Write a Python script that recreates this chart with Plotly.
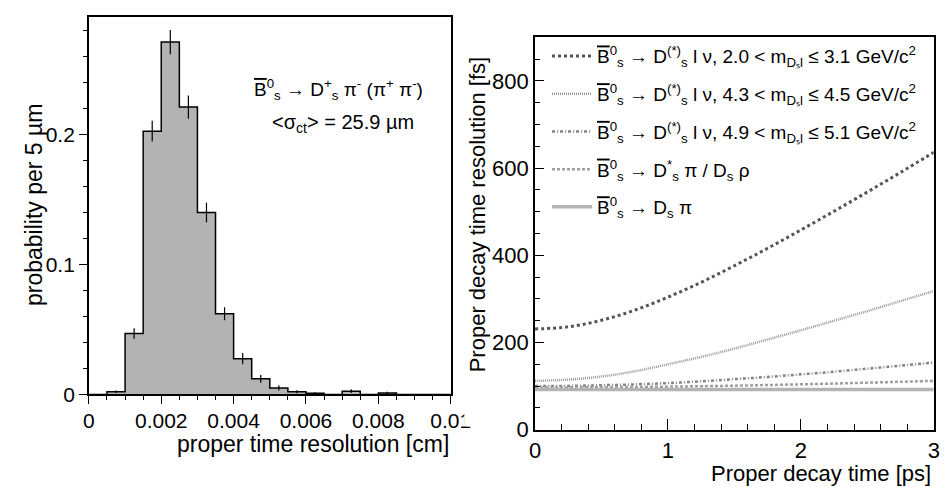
import plotly.graph_objects as go

# ---------------- data: left panel (histogram) ----------------
bin_left = [0.0000, 0.0005, 0.0010, 0.0015, 0.0020, 0.0025, 0.0030, 0.0035, 0.0040, 0.0045,
            0.0050, 0.0055, 0.0060, 0.0065, 0.0070, 0.0075, 0.0080, 0.0085, 0.0090, 0.0095]
bin_width = 0.0005
bin_prob = [0.0, 0.002, 0.0468, 0.2025, 0.271, 0.221, 0.140, 0.062, 0.0275, 0.012,
            0.005, 0.002, 0.0008, 0.0, 0.0025, 0.0, 0.001, 0.0, 0.0, 0.0]
bin_err = [0.0, 0.001, 0.004, 0.008, 0.0094, 0.009, 0.0075, 0.005, 0.0043, 0.003,
           0.002, 0.0012, 0.0008, 0.0, 0.0015, 0.0, 0.001, 0.0, 0.0, 0.0]
left_xticks = [0, 0.002, 0.004, 0.006, 0.008, 0.01]
left_xticklabels = ["0", "0.002", "0.004", "0.006", "0.008", "0.01"]
left_yticks = [0, 0.1, 0.2]
left_yticklabels = ["0", "0.1", "0.2"]

# ---------------- data: right panel (resolution curves) ----------------
t_ps = [0.0, 0.25, 0.5, 0.75, 1.0, 1.25, 1.5, 1.75, 2.0, 2.25, 2.5, 2.75, 3.0]
res_dsl_20_31 = [231, 236, 251, 274, 304, 338, 376, 416, 458, 501, 545, 590, 636]
res_dsl_43_45 = [112, 115, 122, 134, 150, 167, 186, 207, 228, 250, 272, 295, 318]
res_dsl_49_51 = [100, 100.5, 102, 104, 107, 111, 116, 121, 127, 133, 140, 147, 154]
res_dsstar_pi = [97, 97.1, 97.4, 98.0, 98.8, 99.8, 101.0, 102.5, 104.1, 105.9, 107.9, 110.0, 112]
res_ds_pi = [92, 92, 92, 92, 92, 92, 92, 92, 92, 92, 92, 92, 92]

OB = "<span style='text-decoration:overline'>B</span>"
legend_names = [
    OB + "<sup>0</sup><sub>s</sub> → D<sup>(*)</sup><sub>s</sub> l ν, 2.0 &lt; m<sub>Dₛl</sub> ≤ 3.1 GeV/c<sup>2</sup>",
    OB + "<sup>0</sup><sub>s</sub> → D<sup>(*)</sup><sub>s</sub> l ν, 4.3 &lt; m<sub>Dₛl</sub> ≤ 4.5 GeV/c<sup>2</sup>",
    OB + "<sup>0</sup><sub>s</sub> → D<sup>(*)</sup><sub>s</sub> l ν, 4.9 &lt; m<sub>Dₛl</sub> ≤ 5.1 GeV/c<sup>2</sup>",
    OB + "<sup>0</sup><sub>s</sub> → D<sup>*</sup><sub>s</sub> π / D<sub>s</sub> ρ",
    OB + "<sup>0</sup><sub>s</sub> → D<sub>s</sub> π",
]

FONT = "Liberation Sans, Arial, sans-serif"
fig = go.Figure()

# histogram as step outline with fill
step_x = bin_left + [bin_left[-1] + bin_width]
step_y = bin_prob + [bin_prob[-1]]
fig.add_trace(go.Scatter(
    x=step_x, y=step_y, mode="lines", line=dict(shape="hv", color="black", width=1.5),
    fill="tozeroy", fillcolor="#b3b3b3", xaxis="x", yaxis="y", showlegend=False,
    hoverinfo="skip"))

centers = [l + bin_width / 2 for l, p in zip(bin_left, bin_prob) if p > 0]
vals = [p for p in bin_prob if p > 0]
errs = [e for e, p in zip(bin_err, bin_prob) if p > 0]
fig.add_trace(go.Scatter(
    x=centers, y=vals, mode="markers", marker=dict(size=1, color="black"),
    error_y=dict(type="data", array=errs, color="black", thickness=1.2, width=0),
    xaxis="x", yaxis="y", showlegend=False))

# right panel curves
styles = [
    dict(color="#555555", width=3, dash="3px,3px"),
    dict(color="#9a9a9a", width=2.5, dash="1px,1px"),
    dict(color="#858585", width=2.5, dash="3px,2px,1px,2px"),
    dict(color="#a0a0a0", width=2.5, dash="3px,2px"),
    dict(color="#b4b4b4", width=3.5),
]
series = [res_dsl_20_31, res_dsl_43_45, res_dsl_49_51, res_dsstar_pi, res_ds_pi]
for i, (ys, st, nm) in enumerate(zip(series, styles, legend_names)):
    fig.add_trace(go.Scatter(
        x=t_ps, y=ys, mode="lines", line=dict(shape="spline", **st), name=nm,
        xaxis="x2", yaxis="y2", legendgroup=f"g{i}"))

W, H = 949, 487
def px(x):
    return x / W
def py(y):
    return 1 - y / H

axis_common = dict(showline=True, linecolor="black", linewidth=1.6, mirror=True,
                   showgrid=False, zeroline=False, tickcolor="black")

fig.update_layout(
    width=W, height=H, margin=dict(l=0, r=0, t=0, b=0),
    paper_bgcolor="white", plot_bgcolor="rgba(0,0,0,0)",
    font=dict(family=FONT, color="black"),
    xaxis=dict(domain=[px(77), px(449)], range=[0, 0.01], anchor="y",
               tickvals=left_xticks, ticktext=left_xticklabels,
               ticks="outside", ticklen=8, tickwidth=1.2, ticklabelstandoff=-1,
               tickfont=dict(family=FONT, size=21, color="black"),
               minor=dict(dtick=0.0005, tick0=0, ticks="outside", ticklen=4, tickcolor="black"),
               **axis_common),
    yaxis=dict(domain=[py(397), py(9)], range=[0, 0.2905], anchor="x",
               tickvals=left_yticks, ticktext=left_yticklabels,
               ticks="outside", ticklen=8, tickwidth=1.2,
               tickfont=dict(family=FONT, size=21, color="black"),
               minor=dict(dtick=0.02, tick0=0, ticks="outside", ticklen=4, tickcolor="black"),
               **axis_common),
    xaxis2=dict(domain=[px(535.7), px(945.7)], range=[0, 3], anchor="y2",
                tickvals=[0, 1, 2, 3], ticks="inside", ticklen=11, tickwidth=1.2,
                tickfont=dict(family=FONT, size=22, color="black"),
                minor=dict(dtick=0.2, tick0=0, ticks="inside", ticklen=6, tickcolor="black"),
                **axis_common),
    yaxis2=dict(domain=[py(433.3), py(30)], range=[0, 900], anchor="x2",
                tickvals=[0, 200, 400, 600, 800], ticks="inside", ticklen=9, tickwidth=1.2,
                tickfont=dict(family=FONT, size=22, color="black"),
                minor=dict(dtick=50, tick0=0, ticks="inside", ticklen=5, tickcolor="black"),
                **axis_common),
    legend=dict(x=px(548), y=py(30), xanchor="left", yanchor="top",
                bgcolor="rgba(0,0,0,0)", borderwidth=0,
                font=dict(family=FONT, size=19, color="black"),
                tracegroupgap=10, itemwidth=40),
    showlegend=True,
)

annotations = [
    dict(text="proper time resolution [cm]", x=px(449), y=py(448), xanchor="right", yanchor="middle",
         font=dict(size=23)),
    dict(text="probability per 5 µm", x=px(20), y=py(202), textangle=-90, xanchor="center",
         yanchor="middle", font=dict(size=23)),
    dict(text=OB + "<sup>0</sup><sub>s</sub> → D<sup>+</sup><sub>s</sub> π<sup>-</sup> (π<sup>+</sup> π<sup>-</sup>)",
         x=px(334), y=py(84), xanchor="center", yanchor="middle", font=dict(size=19)),
    dict(text="&lt;σ<sub>ct</sub>&gt; = 25.9 µm", x=px(338), y=py(119), xanchor="center",
         yanchor="middle", font=dict(size=20)),
    dict(text="Proper decay time [ps]", x=px(945), y=py(478), xanchor="right", yanchor="middle",
         font=dict(size=22)),
    dict(text="Proper decay time resolution [fs]", x=px(476), y=py(212), textangle=-90,
         xanchor="center", yanchor="middle", font=dict(size=22)),
]
for a in annotations:
    a.update(xref="paper", yref="paper", showarrow=False)
    a["font"].update(family=FONT, color="black")
fig.update_layout(annotations=annotations)

# clip the left panel at its pad edge (cuts the last tick label as in the original)
fig.add_shape(type="rect", xref="paper", yref="paper", x0=px(463), x1=px(475),
              y0=py(430), y1=py(402), fillcolor="white", line=dict(width=0), layer="above")

fig.write_html("out.html")
